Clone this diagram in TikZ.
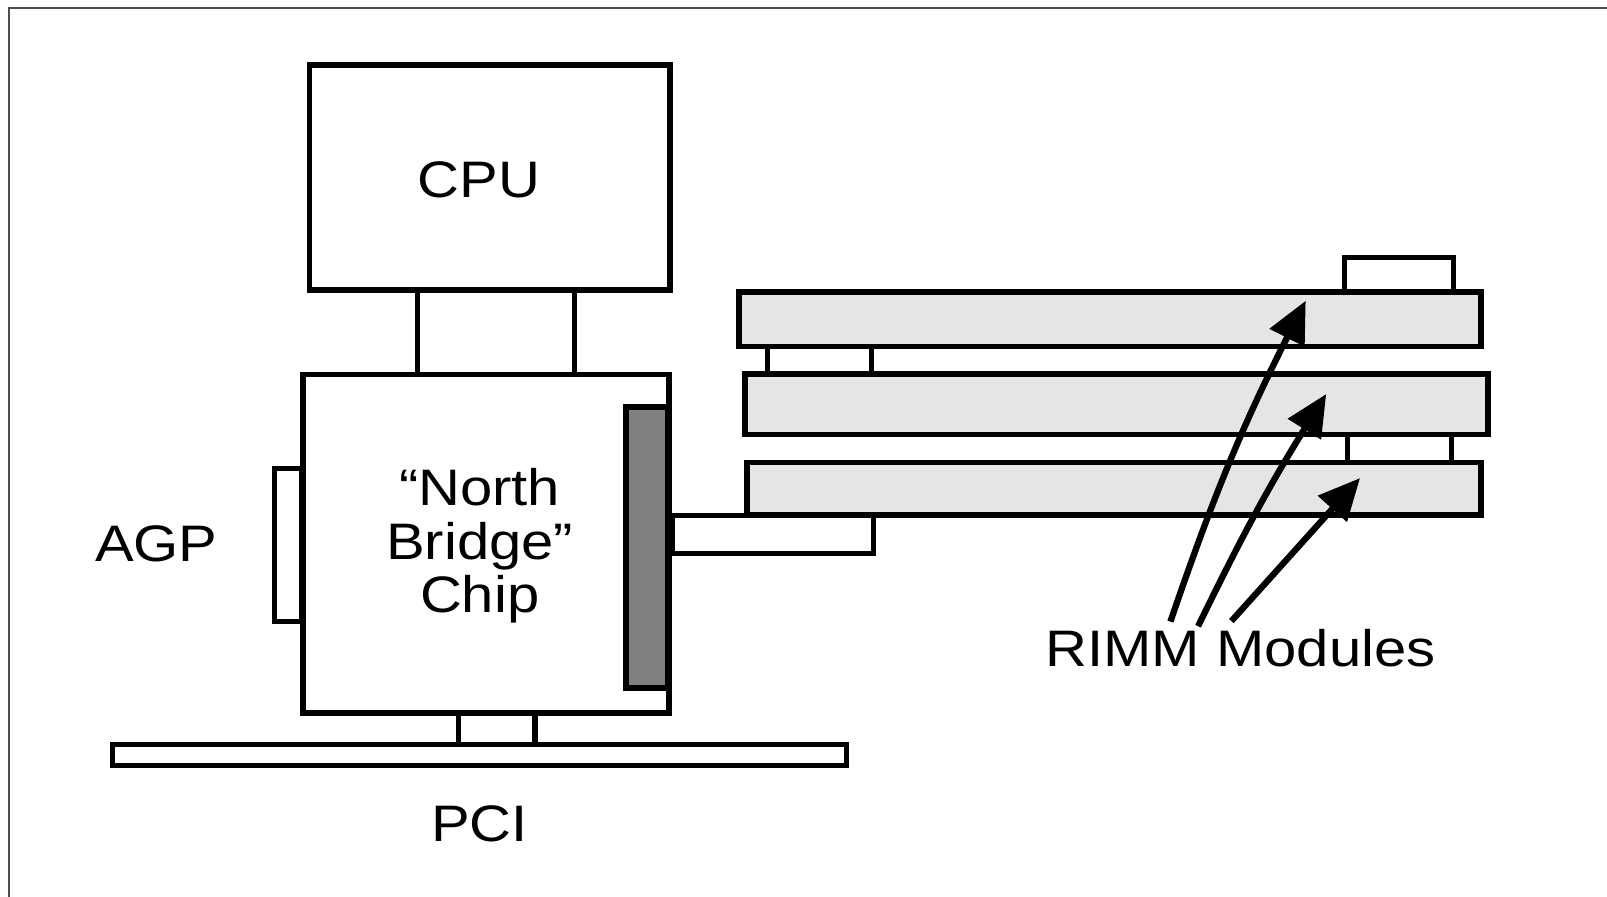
\documentclass[tikz,border=0pt]{standalone}
\usepackage{fontspec}
\setmainfont{Liberation Sans}[FakeStretch=1.13]
\usetikzlibrary{arrows.meta}
\begin{document}
\begin{tikzpicture}[
  box/.style={draw, line width=3.2pt, fill=white, inner sep=0pt},
  mod/.style={draw, line width=3pt, fill=black!10, inner sep=0pt},
  lnk/.style={draw, line width=2.8pt, fill=white, inner sep=0pt},
  lbl/.style={font=\fontsize{28.5}{29.5}\selectfont, inner sep=0pt, align=center},
  ptr/.style={line width=3.5pt, -{Triangle[length=23pt, width=21pt]}}]
  \useasboundingbox (0,0) rectangle (31.36,-17.5);
  \draw[black!70, line width=1.2pt] (31.6,-0.16) -- (0.17,-0.16) -- (0.17,-17.7);
  % links between the parts
  \node[lnk, minimum width=3.07cm, minimum height=1.65cm] (cb) at (9.68,-6.485) {};
  \node[lnk, minimum width=1.5cm, minimum height=0.61cm] (bp) at (9.69,-14.215) {};
  \node[lnk, minimum width=3.92cm, minimum height=0.75cm] (bm) at (15.08,-10.435) {};
  \node[lnk, minimum width=0.52cm, minimum height=2.98cm] (agp) at (5.62,-10.63) {};
  \node[lnk, minimum width=2.11cm, minimum height=0.88cm] (mc0) at (27.30,-5.46) {};
  \node[lnk, minimum width=2.03cm, minimum height=0.9cm] (mc1) at (15.985,-7.05) {};
  \node[lnk, minimum width=2.04cm, minimum height=0.9cm] (mc2) at (27.31,-8.75) {};
  % RIMM modules
  \node[mod, minimum width=14.48cm, minimum height=1.06cm] (m1) at (21.66,-6.23) {};
  \node[mod, minimum width=14.5cm, minimum height=1.18cm] (m2) at (21.79,-7.89) {};
  \node[mod, minimum width=14.32cm, minimum height=1.03cm] (m3) at (21.74,-9.535) {};
  % main parts
  \node[box, minimum width=7.04cm, minimum height=4.39cm] (cpu) at (9.56,-3.465) {};
  \node[box, minimum width=7.15cm, minimum height=6.6cm] (nb) at (9.485,-10.61) {};
  \node[box, fill=black!50, minimum width=0.82cm, minimum height=5.48cm] (slot) at (12.63,-10.68) {};
  \node[lnk, minimum width=14.33cm, minimum height=0.41cm] (pci) at (9.355,-14.725) {};
  % labels
  \node[lbl] (cputxt) at (9.35,-3.50) {CPU};
  \node[lbl] (nbtxt) at (9.36,-10.65) {“North\\Bridge”\\Chip};
  \node[lbl] (agptxt) at (3.05,-10.62) {AGP};
  \node[lbl] (pcitxt) at (9.36,-16.08) {PCI};
  \node[lbl] (rimm) at (24.21,-12.65) {RIMM Modules};
  % pointers
  \coordinate (s1) at (22.84,-12.13);
  \coordinate (s2) at (23.38,-12.22);
  \coordinate (s3) at (24.03,-12.12);
  \coordinate (t1) at (25.48,-5.87);
  \coordinate (t2) at (25.88,-7.69);
  \coordinate (t3) at (26.54,-9.33);
  \draw[ptr] (s1) to[bend left=4] (t1);
  \draw[ptr] (s2) to[bend left=3] (t2);
  \draw[ptr] (s3) to (t3);
\end{tikzpicture}
\end{document}
